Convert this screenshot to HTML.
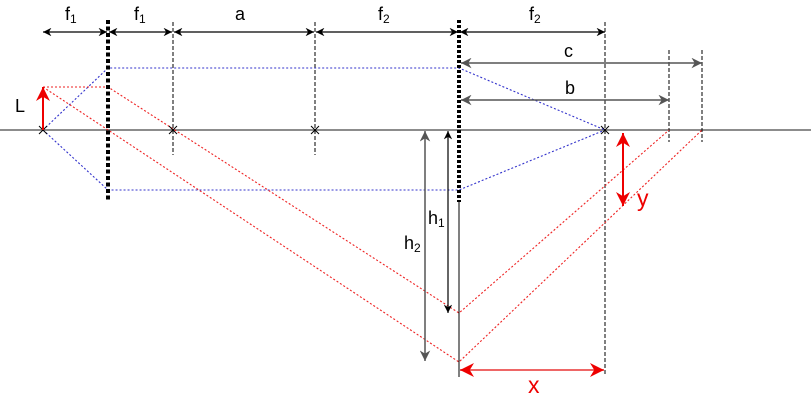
<!DOCTYPE html>
<html><head><style>body{margin:0;background:#fff}svg{display:block}text{font-family:"Liberation Sans",sans-serif}</style></head><body>
<svg width="811" height="401" viewBox="0 0 811 401" xmlns="http://www.w3.org/2000/svg">
<defs>
<marker id="a" viewBox="0 0 10 10" refX="10" refY="5" markerWidth="7" markerHeight="7" orient="auto-start-reverse"><path d="M0,0L10,5L0,10L3,5z" fill="#000"/></marker>
<marker id="g" viewBox="0 0 10 10" refX="10" refY="5" markerWidth="7" markerHeight="7" orient="auto-start-reverse"><path d="M0,0L10,5L0,10L3,5z" fill="#555"/></marker>
<marker id="r" viewBox="0 0 10 10" refX="10" refY="5" markerWidth="7" markerHeight="7" orient="auto-start-reverse"><path d="M0,0L10,5L0,10L3,5z" fill="#e00"/></marker>
</defs>
<line x1="0" y1="130" x2="811" y2="130" stroke="#666" stroke-width="1.5"/>
<g stroke="#000" stroke-width="1" stroke-dasharray="4,2" fill="none">
<line x1="173" y1="22" x2="173" y2="155"/><line x1="315" y1="22" x2="315" y2="155"/>
<line x1="605" y1="22" x2="605" y2="374"/><line x1="669" y1="50" x2="669" y2="142"/><line x1="702" y1="50" x2="702" y2="142"/>
</g>
<g stroke="#33c" stroke-width="1.1" stroke-dasharray="2,2" fill="none">
<polyline points="43,130 108,68 459,68 605,130"/><polyline points="43,130 108,190 459,190 605,130"/>
</g>
<g stroke="#e22" stroke-width="1.1" stroke-dasharray="2,2" fill="none">
<polyline points="43,87 108,87 459,313 669,130"/><polyline points="43,87 459,362 702,130"/>
</g>
<line x1="108" y1="20" x2="108" y2="202" stroke="#000" stroke-width="4" stroke-dasharray="4,2.5"/>
<line x1="459" y1="20" x2="459" y2="202" stroke="#000" stroke-width="4" stroke-dasharray="3,2"/>
<line x1="459" y1="200" x2="459" y2="377" stroke="#000" stroke-width="1"/>
<g stroke="#000" stroke-width="1" fill="none">
<path d="M39,126l8,8M47,126l-8,8M169,126l8,8M177,126l-8,8M311,126l8,8M319,126l-8,8M601,126l8,8M609,126l-8,8"/>
</g>
<g stroke="#000" stroke-width="1.2">
<line x1="43" y1="32" x2="107" y2="32" marker-start="url(#a)" marker-end="url(#a)"/>
<line x1="109" y1="32" x2="172" y2="32" marker-start="url(#a)" marker-end="url(#a)"/>
<line x1="174" y1="32" x2="314" y2="32" marker-start="url(#a)" marker-end="url(#a)"/>
<line x1="316" y1="32" x2="458" y2="32" marker-start="url(#a)" marker-end="url(#a)"/>
<line x1="460" y1="32" x2="605" y2="32" marker-start="url(#a)" marker-end="url(#a)"/>
<line x1="448" y1="131" x2="448" y2="313" marker-start="url(#a)" marker-end="url(#a)"/>
</g>
<g stroke="#555" stroke-width="1.5">
<line x1="461" y1="63" x2="702" y2="63" marker-start="url(#g)" marker-end="url(#g)"/>
<line x1="461" y1="100" x2="669" y2="100" marker-start="url(#g)" marker-end="url(#g)"/>
<line x1="425" y1="131" x2="425" y2="361" marker-start="url(#g)" marker-end="url(#g)"/>
</g>
<g stroke="#e00" stroke-width="2">
<line x1="43" y1="130" x2="43" y2="87" marker-end="url(#r)"/>
<line x1="623" y1="133" x2="623" y2="206" marker-start="url(#r)" marker-end="url(#r)"/>
</g>
<line x1="460" y1="370" x2="604" y2="370" stroke="#e66" stroke-width="2" marker-start="url(#r)" marker-end="url(#r)"/>
<g font-size="18" fill="#000">
<text x="65" y="20">f<tspan font-size="12" dy="3">1</tspan></text>
<text x="134" y="20">f<tspan font-size="12" dy="3">1</tspan></text>
<text x="235" y="20">a</text>
<text x="378" y="20">f<tspan font-size="12" dy="3">2</tspan></text>
<text x="529" y="20">f<tspan font-size="12" dy="3">2</tspan></text>
<text x="564" y="57">c</text>
<text x="565" y="94">b</text>
<text x="15" y="112">L</text>
<text x="428" y="224">h<tspan font-size="12" dy="3">1</tspan></text>
<text x="404" y="249">h<tspan font-size="12" dy="3">2</tspan></text>
</g>
<text x="637" y="206" font-size="23" fill="#e00">y</text>
<text x="528" y="393" font-size="23" fill="#e00">x</text>
</svg>
</body></html>
